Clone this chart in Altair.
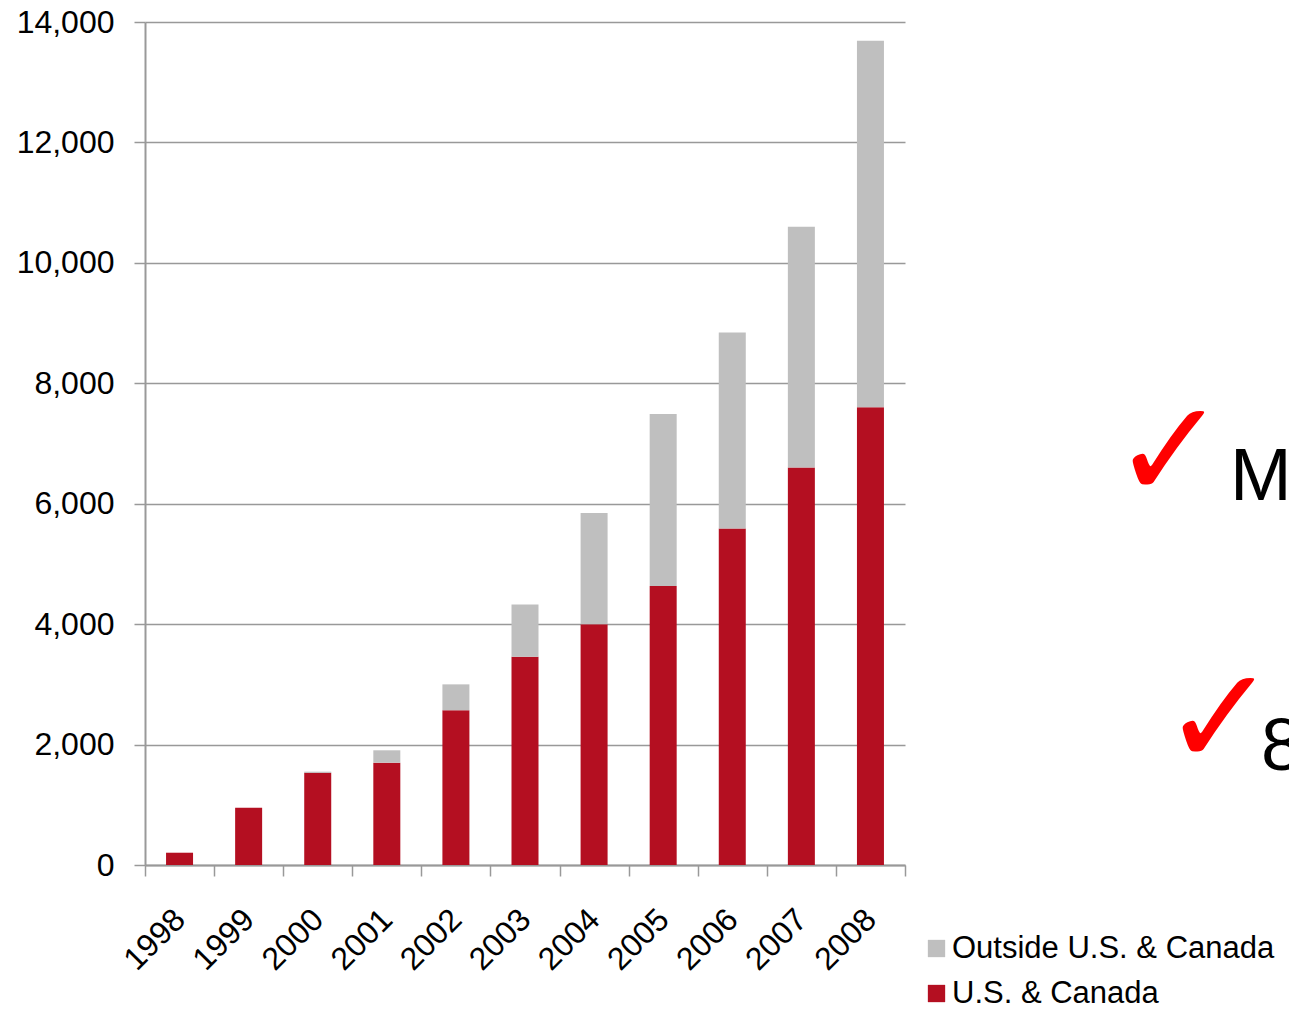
import altair as alt
import pandas as pd

years = ["1998", "1999", "2000", "2001", "2002", "2003", "2004", "2005", "2006", "2007", "2008"]
us_canada = [204, 952, 1530, 1700, 2570, 3460, 4000, 4635, 5590, 6600, 7600]
outside = [0, 0, 20, 205, 430, 865, 1845, 2855, 3255, 4000, 6090]
series = ["Outside U.S. & Canada", "U.S. & Canada"]
colors = ["#bfbfbf", "#b40f21"]
y_ticks = [0, 2000, 4000, 6000, 8000, 10000, 12000, 14000]
check_mark = "\u2713"
fragments = ["M", "8"]

rows = []
for yr, u, o in zip(years, us_canada, outside):
    rows.append({"year": yr, "series": series[1], "value": u, "ord": 0})
    rows.append({"year": yr, "series": series[0], "value": o, "ord": 1})
df = pd.DataFrame(rows)

FONT = "Liberation Sans"

bars = alt.Chart(df).mark_bar(size=27).encode(
    x=alt.X("year:N", sort=years, title=None,
            scale=alt.Scale(paddingInner=0, paddingOuter=0),
            axis=alt.Axis(labelAngle=-45, labelAlign="right", labelBaseline="middle",
                          labelPadding=38, labelFontSize=32, labelFont=FONT,
                          labelColor="#000000", tickBand="extent", tickSize=11,
                          tickColor="#999999", tickWidth=1.5, domainColor="#999999",
                          domainWidth=2, grid=False)),
    y=alt.Y("value:Q", stack="zero", title=None,
            scale=alt.Scale(domain=[0, 14000], nice=False),
            axis=alt.Axis(values=y_ticks, format=",.0f", labelFontSize=32, labelFont=FONT,
                          labelColor="#000000", labelPadding=20, tickSize=11,
                          tickColor="#999999", tickWidth=1.5, domainColor="#999999",
                          domainWidth=2, gridColor="#999999", gridWidth=1.5)),
    color=alt.Color("series:N", scale=alt.Scale(domain=series, range=colors),
                    legend=alt.Legend(title=None, orient="none", legendX=776, legendY=911,
                                      symbolType="square", symbolSize=300,
                                      symbolStrokeWidth=0, labelFontSize=31,
                                      labelFont=FONT, labelColor="#000000", labelLimit=0,
                                      labelOffset=0, rowPadding=13, padding=0)),
    order=alt.Order("ord:Q"),
)

def note(txt, x, y, size, color, font):
    return alt.Chart(pd.DataFrame({"t": [txt]})).mark_text(
        align="left", baseline="alphabetic", fontSize=size, color=color, font=font
    ).encode(text="t:N", x=alt.value(x), y=alt.value(y))

layers = [
    bars,
    note(check_mark, 967, 476, 138, "#ff0000", "DejaVu Sans"),
    note(fragments[0], 1085, 478, 74, "#000000", FONT),
    note(check_mark, 1017, 743, 138, "#ff0000", "DejaVu Sans"),
    note(fragments[1], 1116, 748, 74, "#000000", FONT),
]

chart = alt.layer(*layers).properties(
    width=760, height=843,
    autosize=alt.AutoSizeParams(type="none"),
    padding={"left": 137, "top": 14, "right": 384, "bottom": 140},
).configure_view(stroke=None)

chart.save("out.html", embed_options={"renderer": "svg", "actions": False})
